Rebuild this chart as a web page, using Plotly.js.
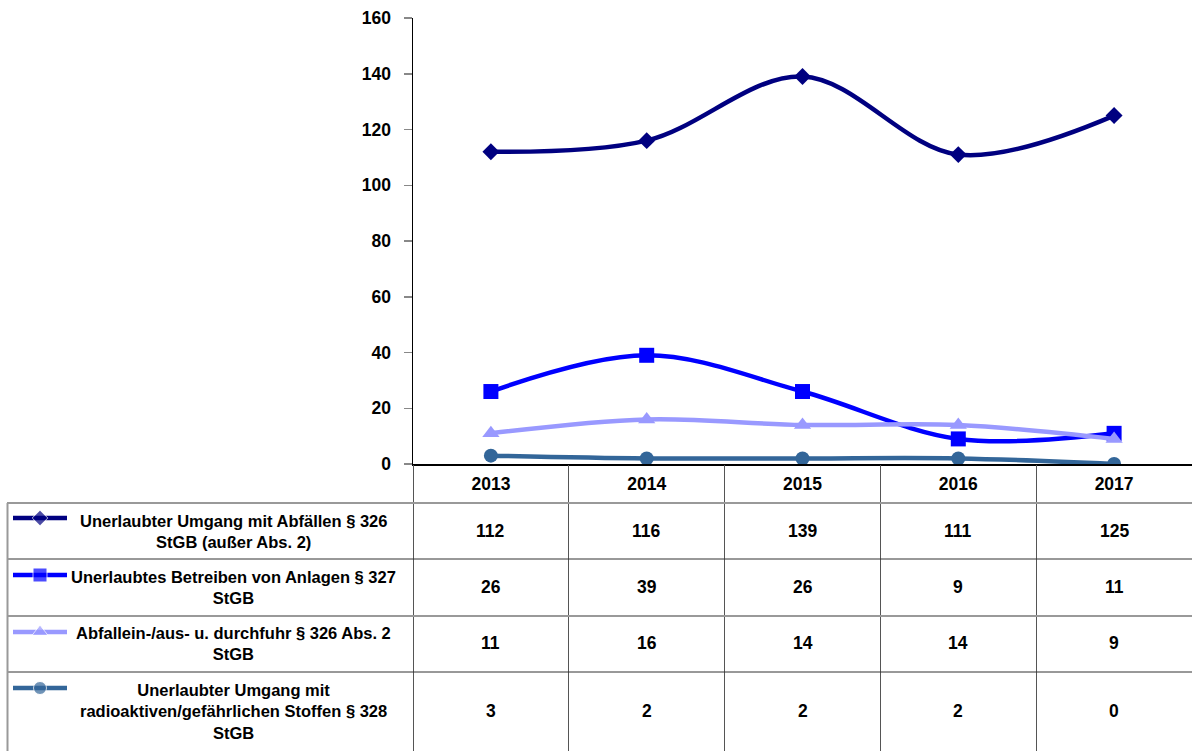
<!DOCTYPE html>
<html>
<head>
<meta charset="utf-8">
<script src="https://cdn.plot.ly/plotly-3.0.1.min.js"></script>
<style>html,body{margin:0;padding:0;background:#fff;}#chart{width:1192px;height:751px;}</style>
</head>
<body>
<div id="chart"></div>
<script>
// ---- data ----
const years = ['2013', '2014', '2015', '2016', '2017'];
const seriesNames = [
  'Unerlaubter Umgang mit Abfällen § 326<br>StGB (außer Abs. 2)',
  'Unerlaubtes Betreiben von Anlagen § 327<br>StGB',
  'Abfallein-/aus- u. durchfuhr § 326 Abs. 2<br>StGB',
  'Unerlaubter Umgang mit<br>radioaktiven/gefährlichen Stoffen § 328<br>StGB'
];
const abfaelle = [112, 116, 139, 111, 125];
const anlagen = [26, 39, 26, 9, 11];
const durchfuhr = [11, 16, 14, 14, 9];
const radioaktiv = [3, 2, 2, 2, 0];
const yTicks = [0, 20, 40, 60, 80, 100, 120, 140, 160];

// ---- styling ----
const seriesValues = [abfaelle, anlagen, durchfuhr, radioaktiv];
const colors = ['#000080', '#0000FF', '#9999FF', '#336699'];
const symbols = ['diamond', 'square', 'triangle-up', 'circle'];
const msizes = [13, 15, 15, 14];
const FONT = '"Liberation Sans Narrow", "Arial Narrow", "Liberation Sans", Arial, sans-serif';
const W = 1192, H = 751;
const plotLeft = 413, axisY = 464, topY = 18;
const rowTops = [503, 559, 616, 672];
const rowCenters = [531, 587, 643, 711];
const iconY = [518, 575, 632, 688];
const py = v => (H - v) / (H - topY); // pixel row -> paper fraction

const traces = [];
seriesValues.forEach((vals, i) => {
  traces.push({
    x: years, y: vals, type: 'scatter', mode: 'lines+markers',
    line: {color: colors[i], width: 4.5, shape: 'spline', smoothing: 1},
    marker: {symbol: symbols[i], size: msizes[i], color: colors[i]},
    xaxis: 'x', yaxis: 'y', showlegend: false, hoverinfo: 'x+y'
  });
});
// overlay axis carrying the long boundary ticks (table column separators)
traces.push({x: years, y: years.map(() => null), type: 'scatter', mode: 'lines',
  xaxis: 'x3', yaxis: 'y', showlegend: false, hoverinfo: 'skip'});
// legend keys in the table's first column
seriesValues.forEach((vals, i) => {
  traces.push({
    x: [13, 40, 67], y: [iconY[i], iconY[i], iconY[i]], type: 'scatter', mode: 'lines+markers',
    line: {color: colors[i], width: 4.5},
    marker: {symbol: symbols[i], size: [0, msizes[i] - 1, 0], color: colors[i]},
    xaxis: 'x2', yaxis: 'y2', showlegend: false, hoverinfo: 'skip'
  });
});

const annotations = [];
const shapes = [];
seriesNames.forEach((name, i) => {
  annotations.push({
    xref: 'x2', yref: 'paper', x: 233, y: py(rowCenters[i]), text: name, showarrow: false,
    align: 'center', xanchor: 'center', yanchor: 'middle',
    font: {family: FONT, size: 16.5, color: '#000', weight: 'bold'}
  });
  years.forEach((yr, j) => {
    annotations.push({
      xref: 'x', yref: 'paper', x: j, y: py(rowCenters[i]), text: String(seriesValues[i][j]),
      showarrow: false, xanchor: 'center', yanchor: 'middle',
      font: {family: FONT, size: 17.5, color: '#000', weight: 'bold'}
    });
  });
});
rowTops.forEach((ry, i) => {
  shapes.push({type: 'line', xref: 'paper', yref: 'paper', x0: 7 / W, x1: 1, y0: py(ry), y1: py(ry),
    line: {color: i % 2 === 0 ? '#999' : '#333', width: i % 2 === 0 ? 2 : 1}});
});
shapes.push({type: 'line', xref: 'paper', yref: 'paper', x0: 7.5 / W, x1: 7.5 / W, y0: py(rowTops[0]), y1: 0,
  line: {color: '#999', width: 2}});

const xDomain = [plotLeft / W, 1];
const yDomain = [(H - axisY) / (H - topY), 1];

const layout = {
  width: W, height: H,
  margin: {l: 0, r: 0, t: topY, b: 0},
  paper_bgcolor: '#fff', plot_bgcolor: 'rgba(0,0,0,0)',
  font: {family: FONT, color: '#000'},
  xaxis: {
    domain: xDomain, type: 'category', range: [-0.5, 4.5], anchor: 'y',
    showline: true, linecolor: '#000', linewidth: 1.5, showgrid: false, zeroline: false,
    ticks: '', ticklabelstandoff: 3,
    tickfont: {family: FONT, size: 17.5, color: '#000', weight: 'bold'}, fixedrange: true
  },
  xaxis3: {
    overlaying: 'x', matches: 'x', type: 'category', anchor: 'y', domain: xDomain,
    range: [-0.5, 4.5], tickson: 'boundaries', ticks: 'outside', ticklen: H - axisY,
    tickcolor: '#555', tickwidth: 1, showticklabels: false, showline: false, showgrid: false,
    zeroline: false, fixedrange: true
  },
  yaxis: {
    domain: yDomain, range: [0, 160], anchor: 'x', tickvals: yTicks, ticktext: yTicks.map(String),
    showline: true, linecolor: '#000', linewidth: 1.5, showgrid: false, zeroline: false,
    ticks: 'outside', ticklen: 8, tickcolor: '#888', tickwidth: 1.5, ticklabelstandoff: 9,
    tickfont: {family: FONT, size: 17.5, color: '#000', weight: 'bold'}, fixedrange: true
  },
  xaxis2: {domain: [0, plotLeft / W], range: [0, plotLeft], anchor: 'y2', visible: false, fixedrange: true},
  yaxis2: {domain: [0, yDomain[0]], range: [H, axisY], anchor: 'x2', visible: false, fixedrange: true},
  annotations: annotations,
  shapes: shapes,
  showlegend: false
};

Plotly.newPlot('chart', traces, layout, {displayModeBar: false, staticPlot: true});
</script>
</body>
</html>
